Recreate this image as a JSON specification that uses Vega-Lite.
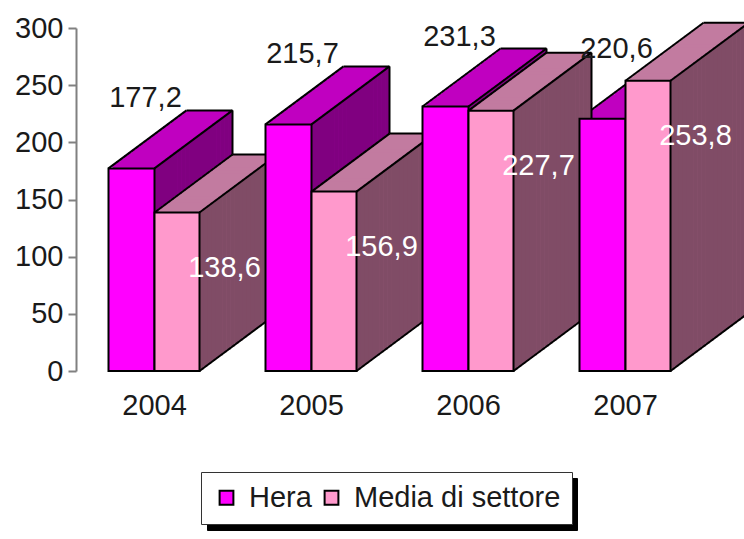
{
  "$schema": "https://vega.github.io/schema/vega-lite/v6.json",
  "autosize": {"type": "none"},
  "padding": {"left": 76, "top": 28, "right": 40, "bottom": 168},
  "width": 628,
  "height": 343,
  "background": "white",
  "config": {
    "view": {"stroke": null},
    "locale": {"number": {"decimal": ",", "thousands": ".", "grouping": [3], "currency": ["€", ""]}},
    "font": "Liberation Sans"
  },
  "data": {"values": [
    {"year": "2004", "series": "Hera", "value": 177.2},
    {"year": "2004", "series": "Media di settore", "value": 138.6},
    {"year": "2005", "series": "Hera", "value": 215.7},
    {"year": "2005", "series": "Media di settore", "value": 156.9},
    {"year": "2006", "series": "Hera", "value": 231.3},
    {"year": "2006", "series": "Media di settore", "value": 227.7},
    {"year": "2007", "series": "Hera", "value": 220.6},
    {"year": "2007", "series": "Media di settore", "value": 253.8}
  ]},
  "encoding": {
    "x": {"field": "year", "type": "ordinal", "scale": {"paddingInner": 0, "paddingOuter": 0},
      "axis": {"title": null, "labelAngle": 0, "domain": false, "ticks": false, "labelFontSize": 29, "labelFont": "Liberation Sans", "labelColor": "#1a1a1a", "labelPadding": 20}},
    "y": {"field": "value", "type": "quantitative", "scale": {"domain": [0, 300]},
      "axis": {"title": null, "grid": false, "values": [0, 50, 100, 150, 200, 250, 300], "domainColor": "#808080", "domainWidth": 2, "tickColor": "#808080", "tickWidth": 2, "tickSize": 8, "labelFontSize": 29, "labelFont": "Liberation Sans", "labelColor": "#1a1a1a", "labelPadding": 5}}
  },
  "layer": [
    {
      "transform": [{"filter": "datum.series === 'Hera'"}],
      "layer": [
        {"mark": {"type": "bar", "width": 46, "color": "#C000C0", "xOffset": 55, "yOffset": -58, "y2Offset": -58}},
        {"mark": {"type": "bar", "width": 46, "color": "#C000C0", "xOffset": 51.1, "yOffset": -56.55, "y2Offset": -55.1}},
        {"mark": {"type": "bar", "width": 46, "color": "#C000C0", "xOffset": 47.2, "yOffset": -53.65, "y2Offset": -52.2}},
        {"mark": {"type": "bar", "width": 46, "color": "#C000C0", "xOffset": 43.3, "yOffset": -50.75, "y2Offset": -49.3}},
        {"mark": {"type": "bar", "width": 46, "color": "#C000C0", "xOffset": 39.4, "yOffset": -47.85, "y2Offset": -46.4}},
        {"mark": {"type": "bar", "width": 46, "color": "#C000C0", "xOffset": 35.5, "yOffset": -44.95, "y2Offset": -43.5}},
        {"mark": {"type": "bar", "width": 46, "color": "#C000C0", "xOffset": 31.6, "yOffset": -42.05, "y2Offset": -40.6}},
        {"mark": {"type": "bar", "width": 46, "color": "#C000C0", "xOffset": 27.7, "yOffset": -39.15, "y2Offset": -37.7}},
        {"mark": {"type": "bar", "width": 46, "color": "#C000C0", "xOffset": 23.8, "yOffset": -36.25, "y2Offset": -34.8}},
        {"mark": {"type": "bar", "width": 46, "color": "#C000C0", "xOffset": 19.9, "yOffset": -33.35, "y2Offset": -31.9}},
        {"mark": {"type": "bar", "width": 46, "color": "#C000C0", "xOffset": 16, "yOffset": -30.45, "y2Offset": -29}},
        {"mark": {"type": "bar", "width": 46, "color": "#C000C0", "xOffset": 12.1, "yOffset": -27.55, "y2Offset": -26.1}},
        {"mark": {"type": "bar", "width": 46, "color": "#C000C0", "xOffset": 8.2, "yOffset": -24.65, "y2Offset": -23.2}},
        {"mark": {"type": "bar", "width": 46, "color": "#C000C0", "xOffset": 4.3, "yOffset": -21.75, "y2Offset": -20.3}},
        {"mark": {"type": "bar", "width": 46, "color": "#C000C0", "xOffset": 0.4, "yOffset": -18.85, "y2Offset": -17.4}},
        {"mark": {"type": "bar", "width": 46, "color": "#C000C0", "xOffset": -3.5, "yOffset": -15.95, "y2Offset": -14.5}},
        {"mark": {"type": "bar", "width": 46, "color": "#C000C0", "xOffset": -7.4, "yOffset": -13.05, "y2Offset": -11.6}},
        {"mark": {"type": "bar", "width": 46, "color": "#C000C0", "xOffset": -11.3, "yOffset": -10.15, "y2Offset": -8.7}},
        {"mark": {"type": "bar", "width": 46, "color": "#C000C0", "xOffset": -15.2, "yOffset": -7.25, "y2Offset": -5.8}},
        {"mark": {"type": "bar", "width": 46, "color": "#C000C0", "xOffset": -19.1, "yOffset": -4.35, "y2Offset": -2.9}},
        {"mark": {"type": "bar", "width": 4.4, "color": "#800080", "xOffset": 75.8, "yOffset": -58, "y2Offset": -58}},
        {"mark": {"type": "bar", "width": 4.4, "color": "#800080", "xOffset": 71.9, "yOffset": -53.5, "y2Offset": -53.5}},
        {"mark": {"type": "bar", "width": 4.4, "color": "#800080", "xOffset": 68, "yOffset": -50.6, "y2Offset": -50.6}},
        {"mark": {"type": "bar", "width": 4.4, "color": "#800080", "xOffset": 64.1, "yOffset": -47.7, "y2Offset": -47.7}},
        {"mark": {"type": "bar", "width": 4.4, "color": "#800080", "xOffset": 60.2, "yOffset": -44.8, "y2Offset": -44.8}},
        {"mark": {"type": "bar", "width": 4.4, "color": "#800080", "xOffset": 56.3, "yOffset": -41.9, "y2Offset": -41.9}},
        {"mark": {"type": "bar", "width": 4.4, "color": "#800080", "xOffset": 52.4, "yOffset": -39, "y2Offset": -39}},
        {"mark": {"type": "bar", "width": 4.4, "color": "#800080", "xOffset": 48.5, "yOffset": -36.1, "y2Offset": -36.1}},
        {"mark": {"type": "bar", "width": 4.4, "color": "#800080", "xOffset": 44.6, "yOffset": -33.2, "y2Offset": -33.2}},
        {"mark": {"type": "bar", "width": 4.4, "color": "#800080", "xOffset": 40.7, "yOffset": -30.3, "y2Offset": -30.3}},
        {"mark": {"type": "bar", "width": 4.4, "color": "#800080", "xOffset": 36.8, "yOffset": -27.4, "y2Offset": -27.4}},
        {"mark": {"type": "bar", "width": 4.4, "color": "#800080", "xOffset": 32.9, "yOffset": -24.5, "y2Offset": -24.5}},
        {"mark": {"type": "bar", "width": 4.4, "color": "#800080", "xOffset": 29, "yOffset": -21.6, "y2Offset": -21.6}},
        {"mark": {"type": "bar", "width": 4.4, "color": "#800080", "xOffset": 25.1, "yOffset": -18.7, "y2Offset": -18.7}},
        {"mark": {"type": "bar", "width": 4.4, "color": "#800080", "xOffset": 21.2, "yOffset": -15.8, "y2Offset": -15.8}},
        {"mark": {"type": "bar", "width": 4.4, "color": "#800080", "xOffset": 17.3, "yOffset": -12.9, "y2Offset": -12.9}},
        {"mark": {"type": "bar", "width": 4.4, "color": "#800080", "xOffset": 13.4, "yOffset": -10, "y2Offset": -10}},
        {"mark": {"type": "bar", "width": 4.4, "color": "#800080", "xOffset": 9.5, "yOffset": -7.1, "y2Offset": -7.1}},
        {"mark": {"type": "bar", "width": 4.4, "color": "#800080", "xOffset": 5.6, "yOffset": -4.2, "y2Offset": -4.2}},
        {"mark": {"type": "bar", "width": 4.4, "color": "#800080", "xOffset": 1.7, "yOffset": -1.3, "y2Offset": -1.3}},
        {"mark": {"type": "rule", "color": "black", "strokeWidth": 2, "xOffset": -46, "x2Offset": 32, "yOffset": 0, "y2Offset": -58},
          "encoding": {"x2": {"field": "year"}, "y2": {"field": "value"}}},
        {"mark": {"type": "rule", "color": "black", "strokeWidth": 2, "xOffset": 0, "x2Offset": 78, "yOffset": 0, "y2Offset": -58},
          "encoding": {"x2": {"field": "year"}, "y2": {"field": "value"}}},
        {"mark": {"type": "rule", "color": "black", "strokeWidth": 2, "xOffset": 0, "x2Offset": 78, "yOffset": 0, "y2Offset": -58},
          "encoding": {"x2": {"field": "year"}, "y": {"datum": 0}, "y2": {"datum": 0}}},
        {"mark": {"type": "rule", "color": "black", "strokeWidth": 2, "xOffset": 32, "x2Offset": 78, "yOffset": -58, "y2Offset": -58},
          "encoding": {"x2": {"field": "year"}, "y2": {"field": "value"}}},
        {"mark": {"type": "rule", "color": "black", "strokeWidth": 2, "xOffset": 78, "x2Offset": 78, "yOffset": -58, "y2Offset": -58},
          "encoding": {"x2": {"field": "year"}, "y2": {"datum": 0}}}
      ]
    },
    {
      "transform": [{"filter": "datum.series === 'Media di settore'"}],
      "layer": [
        {"mark": {"type": "bar", "width": 45, "color": "#C27BA0", "xOffset": 100.5, "yOffset": -58, "y2Offset": -58}},
        {"mark": {"type": "bar", "width": 45, "color": "#C27BA0", "xOffset": 96.6, "yOffset": -56.55, "y2Offset": -55.1}},
        {"mark": {"type": "bar", "width": 45, "color": "#C27BA0", "xOffset": 92.7, "yOffset": -53.65, "y2Offset": -52.2}},
        {"mark": {"type": "bar", "width": 45, "color": "#C27BA0", "xOffset": 88.8, "yOffset": -50.75, "y2Offset": -49.3}},
        {"mark": {"type": "bar", "width": 45, "color": "#C27BA0", "xOffset": 84.9, "yOffset": -47.85, "y2Offset": -46.4}},
        {"mark": {"type": "bar", "width": 45, "color": "#C27BA0", "xOffset": 81, "yOffset": -44.95, "y2Offset": -43.5}},
        {"mark": {"type": "bar", "width": 45, "color": "#C27BA0", "xOffset": 77.1, "yOffset": -42.05, "y2Offset": -40.6}},
        {"mark": {"type": "bar", "width": 45, "color": "#C27BA0", "xOffset": 73.2, "yOffset": -39.15, "y2Offset": -37.7}},
        {"mark": {"type": "bar", "width": 45, "color": "#C27BA0", "xOffset": 69.3, "yOffset": -36.25, "y2Offset": -34.8}},
        {"mark": {"type": "bar", "width": 45, "color": "#C27BA0", "xOffset": 65.4, "yOffset": -33.35, "y2Offset": -31.9}},
        {"mark": {"type": "bar", "width": 45, "color": "#C27BA0", "xOffset": 61.5, "yOffset": -30.45, "y2Offset": -29}},
        {"mark": {"type": "bar", "width": 45, "color": "#C27BA0", "xOffset": 57.6, "yOffset": -27.55, "y2Offset": -26.1}},
        {"mark": {"type": "bar", "width": 45, "color": "#C27BA0", "xOffset": 53.7, "yOffset": -24.65, "y2Offset": -23.2}},
        {"mark": {"type": "bar", "width": 45, "color": "#C27BA0", "xOffset": 49.8, "yOffset": -21.75, "y2Offset": -20.3}},
        {"mark": {"type": "bar", "width": 45, "color": "#C27BA0", "xOffset": 45.9, "yOffset": -18.85, "y2Offset": -17.4}},
        {"mark": {"type": "bar", "width": 45, "color": "#C27BA0", "xOffset": 42, "yOffset": -15.95, "y2Offset": -14.5}},
        {"mark": {"type": "bar", "width": 45, "color": "#C27BA0", "xOffset": 38.1, "yOffset": -13.05, "y2Offset": -11.6}},
        {"mark": {"type": "bar", "width": 45, "color": "#C27BA0", "xOffset": 34.2, "yOffset": -10.15, "y2Offset": -8.7}},
        {"mark": {"type": "bar", "width": 45, "color": "#C27BA0", "xOffset": 30.3, "yOffset": -7.25, "y2Offset": -5.8}},
        {"mark": {"type": "bar", "width": 45, "color": "#C27BA0", "xOffset": 26.4, "yOffset": -4.35, "y2Offset": -2.9}},
        {"mark": {"type": "bar", "width": 4.4, "color": "#804C66", "xOffset": 120.8, "yOffset": -58, "y2Offset": -58}},
        {"mark": {"type": "bar", "width": 4.4, "color": "#804C66", "xOffset": 116.9, "yOffset": -53.5, "y2Offset": -53.5}},
        {"mark": {"type": "bar", "width": 4.4, "color": "#804C66", "xOffset": 113, "yOffset": -50.6, "y2Offset": -50.6}},
        {"mark": {"type": "bar", "width": 4.4, "color": "#804C66", "xOffset": 109.1, "yOffset": -47.7, "y2Offset": -47.7}},
        {"mark": {"type": "bar", "width": 4.4, "color": "#804C66", "xOffset": 105.2, "yOffset": -44.8, "y2Offset": -44.8}},
        {"mark": {"type": "bar", "width": 4.4, "color": "#804C66", "xOffset": 101.3, "yOffset": -41.9, "y2Offset": -41.9}},
        {"mark": {"type": "bar", "width": 4.4, "color": "#804C66", "xOffset": 97.4, "yOffset": -39, "y2Offset": -39}},
        {"mark": {"type": "bar", "width": 4.4, "color": "#804C66", "xOffset": 93.5, "yOffset": -36.1, "y2Offset": -36.1}},
        {"mark": {"type": "bar", "width": 4.4, "color": "#804C66", "xOffset": 89.6, "yOffset": -33.2, "y2Offset": -33.2}},
        {"mark": {"type": "bar", "width": 4.4, "color": "#804C66", "xOffset": 85.7, "yOffset": -30.3, "y2Offset": -30.3}},
        {"mark": {"type": "bar", "width": 4.4, "color": "#804C66", "xOffset": 81.8, "yOffset": -27.4, "y2Offset": -27.4}},
        {"mark": {"type": "bar", "width": 4.4, "color": "#804C66", "xOffset": 77.9, "yOffset": -24.5, "y2Offset": -24.5}},
        {"mark": {"type": "bar", "width": 4.4, "color": "#804C66", "xOffset": 74, "yOffset": -21.6, "y2Offset": -21.6}},
        {"mark": {"type": "bar", "width": 4.4, "color": "#804C66", "xOffset": 70.1, "yOffset": -18.7, "y2Offset": -18.7}},
        {"mark": {"type": "bar", "width": 4.4, "color": "#804C66", "xOffset": 66.2, "yOffset": -15.8, "y2Offset": -15.8}},
        {"mark": {"type": "bar", "width": 4.4, "color": "#804C66", "xOffset": 62.3, "yOffset": -12.9, "y2Offset": -12.9}},
        {"mark": {"type": "bar", "width": 4.4, "color": "#804C66", "xOffset": 58.4, "yOffset": -10, "y2Offset": -10}},
        {"mark": {"type": "bar", "width": 4.4, "color": "#804C66", "xOffset": 54.5, "yOffset": -7.1, "y2Offset": -7.1}},
        {"mark": {"type": "bar", "width": 4.4, "color": "#804C66", "xOffset": 50.6, "yOffset": -4.2, "y2Offset": -4.2}},
        {"mark": {"type": "bar", "width": 4.4, "color": "#804C66", "xOffset": 46.7, "yOffset": -1.3, "y2Offset": -1.3}},
        {"mark": {"type": "rule", "color": "black", "strokeWidth": 2, "xOffset": 0, "x2Offset": 78, "yOffset": 0, "y2Offset": -58},
          "encoding": {"x2": {"field": "year"}, "y2": {"field": "value"}}},
        {"mark": {"type": "rule", "color": "black", "strokeWidth": 2, "xOffset": 45, "x2Offset": 123, "yOffset": 0, "y2Offset": -58},
          "encoding": {"x2": {"field": "year"}, "y2": {"field": "value"}}},
        {"mark": {"type": "rule", "color": "black", "strokeWidth": 2, "xOffset": 45, "x2Offset": 123, "yOffset": 0, "y2Offset": -58},
          "encoding": {"x2": {"field": "year"}, "y": {"datum": 0}, "y2": {"datum": 0}}},
        {"mark": {"type": "rule", "color": "black", "strokeWidth": 2, "xOffset": 78, "x2Offset": 123, "yOffset": -58, "y2Offset": -58},
          "encoding": {"x2": {"field": "year"}, "y2": {"field": "value"}}},
        {"mark": {"type": "rule", "color": "black", "strokeWidth": 2, "xOffset": 123, "x2Offset": 123, "yOffset": -58, "y2Offset": -58},
          "encoding": {"x2": {"field": "year"}, "y2": {"datum": 0}}}
      ]
    },
    {
      "mark": {"type": "point", "opacity": 0, "size": 190, "filled": true},
      "encoding": {"shape": {"field": "series", "type": "nominal",
        "scale": {"domain": ["Hera", "Media di settore"], "range": ["square", "square"]},
        "legend": {"title": null, "orient": "none", "legendX": 131, "legendY": 450, "direction": "horizontal", "zindex": 0,
          "symbolType": "square", "symbolSize": 190, "symbolFillColor": "black", "symbolStrokeColor": "black", "symbolStrokeWidth": 2, "symbolOpacity": 1,
          "labelExpr": "''", "labelFontSize": 29, "labelFont": "Liberation Sans", "labelColor": "black",
          "strokeColor": "black", "fillColor": "black", "padding": 11, "columnPadding": 274, "labelOffset": 8}}}
    },
    {
      "mark": {"type": "bar", "width": 46, "xOffset": -23, "stroke": "black", "strokeWidth": 2},
      "transform": [{"filter": "datum.series === 'Hera'"}],
      "encoding": {"color": {"field": "series", "type": "nominal",
        "scale": {"range": ["#FF00FF", "#FF99CC"]},
        "legend": {"title": null, "orient": "none", "legendX": 125, "legendY": 444, "direction": "horizontal", "zindex": 1,
          "symbolType": "square", "symbolSize": 190, "symbolStrokeColor": "black", "symbolStrokeWidth": 2,
          "labelFontSize": 29, "labelFont": "Liberation Sans", "labelColor": "#1a1a1a", "labelLimit": 0,
          "strokeColor": "#333333", "fillColor": "white", "padding": 11, "columnPadding": 5, "labelOffset": 8}}}
    },
    {
      "mark": {"type": "bar", "width": 45, "xOffset": 22.5, "stroke": "black", "strokeWidth": 2},
      "transform": [{"filter": "datum.series === 'Media di settore'"}],
      "encoding": {"color": {"field": "series", "type": "nominal"}}
    },
    {
      "mark": {"type": "text", "dx": -9, "dy": -70, "fontSize": 29, "font": "Liberation Sans", "color": "#1a1a1a"},
      "transform": [{"filter": "datum.series === 'Hera'"}],
      "encoding": {"text": {"field": "value", "type": "quantitative", "format": ".1f"}}
    },
    {
      "mark": {"type": "text", "dx": 70, "dy": 55, "fontSize": 29, "font": "Liberation Sans", "color": "white"},
      "transform": [{"filter": "datum.series === 'Media di settore'"}],
      "encoding": {"text": {"field": "value", "type": "quantitative", "format": ".1f"}}
    }
  ]
}
